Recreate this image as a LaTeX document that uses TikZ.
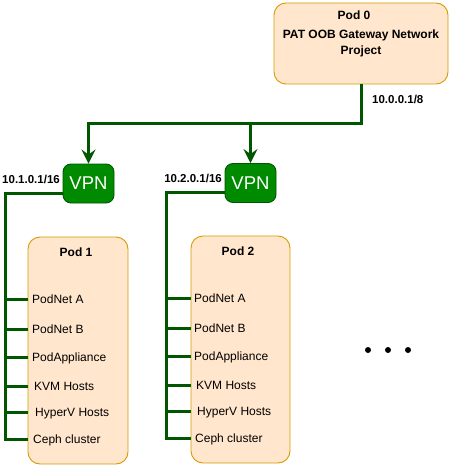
\documentclass[tikz,border=0pt]{standalone}
\usepackage{fontspec}
\setmainfont{Liberation Sans}
\usetikzlibrary{arrows.meta}
\definecolor{podfill}{HTML}{FFE6CC}
\definecolor{podline}{HTML}{D79B00}
\definecolor{vpnfill}{HTML}{008A00}
\definecolor{vpnline}{HTML}{005700}
\definecolor{linkgreen}{HTML}{005700}
\begin{document}
\begin{tikzpicture}[x=1pt,y=-1pt,
  pod/.style={draw=podline, fill=podfill, rounded corners=12pt, line width=0.9pt, inner sep=0pt},
  vpn/.style={draw=vpnline, fill=vpnfill, rounded corners=8pt, line width=0.9pt, inner sep=0pt,
    text=white, font=\fontsize{18.5}{20}\selectfont, minimum width=51pt, minimum height=39pt},
  title/.style={font=\fontsize{12}{16}\selectfont\bfseries, inner sep=0pt, align=center},
  item/.style={font=\fontsize{12}{14}\selectfont, inner sep=0pt, anchor=west, text height=8.6pt, text depth=0pt},
  lbl/.style={font=\fontsize{11.5}{14}\selectfont\bfseries, inner sep=0pt, text height=8.3pt, text depth=0pt},
  link/.style={draw=linkgreen, line width=3pt},
  arr/.style={-{Stealth[length=14pt,width=14pt,inset=5pt]}},
  dot/.style={circle, fill=black, inner sep=0pt, minimum size=6pt}
]
\useasboundingbox (0,0) rectangle (449,465);

% Pod 0
\node[pod, minimum width=174pt, minimum height=81pt] (pod0) at (361,43.5) {};
\node[title] (pod0t) at (354,15) {Pod 0};
\node[title] (pod0d) at (361,43) {PAT OOB Gateway Network\\Project};

% VPNs
\node[vpn] (vpn1) at (88.5,183.5) {VPN};
\node[vpn] (vpn2) at (250.5,183) {VPN};

% labels
\node[lbl, anchor=west] (ip0) at (372,99) {10.0.0.1/8};
\node[lbl, anchor=east] (ip1) at (60,179) {10.1.0.1/16};
\node[lbl, anchor=east] (ip2) at (222,178) {10.2.0.1/16};

% Pods 1 and 2
\node[pod, minimum width=100pt, minimum height=227pt] (pod1) at (78,350.5) {};
\node[pod, minimum width=99pt, minimum height=227pt] (pod2) at (240.5,349.5) {};
\node[title] (pod1t) at (76,252) {Pod 1};
\node[title] (pod2t) at (238,251) {Pod 2};

\node[item] (a1) at (32,299.5) {PodNet A};
\node[item] (b1) at (32,329) {PodNet B};
\node[item] (c1) at (32,357.5) {PodAppliance};
\node[item] (d1) at (34,386) {KVM Hosts};
\node[item] (e1) at (35,412.5) {HyperV Hosts};
\node[item] (f1) at (33,439) {Ceph cluster};

\node[item] (a2) at (194,298.5) {PodNet A};
\node[item] (b2) at (194,328) {PodNet B};
\node[item] (c2) at (194,356.5) {PodAppliance};
\node[item] (d2) at (196,385) {KVM Hosts};
\node[item] (e2) at (197,411.5) {HyperV Hosts};
\node[item] (f2) at (195,438) {Ceph cluster};

% connectors from pod 0
\coordinate (j1) at (361,124);
\draw[link,arr] (pod0.south) -- (j1) -| (vpn1.north);
\draw[link,arr] (vpn2.north |- j1) -- (vpn2.north);

% trunks
\coordinate (t1) at (5,0);
\coordinate (t2) at (166,0);
\draw[link] ([yshift=-9.5pt]vpn1.west) -| (t1 |- f1) -- (pod1.west |- f1);
\draw[link] ([yshift=-9.5pt]vpn2.west) -| (t2 |- f2) -- (pod2.west |- f2);
\foreach \n in {a1,b1,c1,d1,e1}
  \draw[link] (t1 |- \n) -- (pod1.west |- \n);
\foreach \n in {a2,b2,c2,d2,e2}
  \draw[link] (t2 |- \n) -- (pod2.west |- \n);

% dots
\node[dot] (dot1) at (368,350) {};
\node[dot] (dot2) at (388,350) {};
\node[dot] (dot3) at (408,350) {};
\end{tikzpicture}
\end{document}
